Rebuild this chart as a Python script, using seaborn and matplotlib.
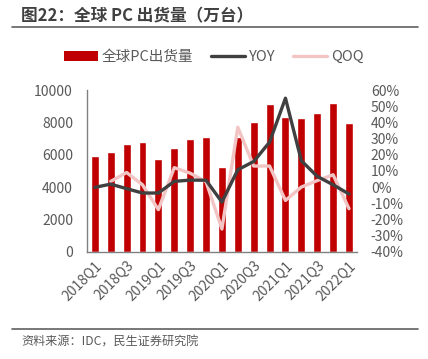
import numpy as np
import pandas as pd
import matplotlib
matplotlib.use("Agg")
import matplotlib.pyplot as plt
from matplotlib.patches import Patch
from matplotlib.lines import Line2D
import seaborn as sns

quarters = ["2018Q1", "2018Q2", "2018Q3", "2018Q4", "2019Q1", "2019Q2", "2019Q3", "2019Q4",
            "2020Q1", "2020Q2", "2020Q3", "2020Q4", "2021Q1", "2021Q2", "2021Q3", "2021Q4", "2022Q1"]
shipments = [5940, 6150, 6660, 6765, 5750, 6430, 6950, 7090,
             5230, 7110, 8040, 9115, 8350, 8290, 8580, 9215, 7960]
yoy = [-0.2, 1.8, -1.0, -3.7, -3.7, 3.5, 4.3, 4.2,
       -9.3, 10.7, 15.8, 27.8, 55.0, 16.3, 6.6, 1.4, -4.3]
qoq = [np.nan, 3.5, 9.0, 1.4, -14.0, 12.0, 8.6, 3.3,
       -26.0, 37.0, 13.0, 13.0, -8.3, 0.0, 4.0, 7.6, -13.4]
tick_labels = quarters[::2]

sns.set_theme(style="white")
plt.rcParams["font.family"] = ["Noto Sans CJK SC", "DejaVu Sans"]

RED = "#C00000"
DARK = "#404040"
PINK = "#F2C4C4"
GRAY = "#595959"

fig = plt.figure(figsize=(4.28, 3.59), dpi=100)
ax = fig.add_axes([0.203, 0.299, 0.631, 0.450])

df = pd.DataFrame({"q": quarters, "v": shipments})
sns.barplot(data=df, x="q", y="v", color=RED, saturation=1, width=0.5, ax=ax)
ax.set_ylim(0, 10000)
ax.set_yticks(np.arange(0, 10001, 2000))
ax.set_xlim(-0.5, len(quarters) - 0.5)
ax.set_xlabel("")
ax.set_ylabel("")
ax.set_xticks(np.arange(0, len(quarters), 2))
ax.set_xticklabels(tick_labels, rotation=45, ha="right", rotation_mode="anchor")
ax.tick_params(axis="y", length=0, labelsize=10, colors=GRAY, pad=10)
ax.tick_params(axis="x", length=0, labelsize=10, colors=GRAY, pad=5)
for s in ["top", "right"]:
    ax.spines[s].set_visible(False)
for s in ["left", "bottom"]:
    ax.spines[s].set_color("#808080")
    ax.spines[s].set_linewidth(1.0)

ax2 = ax.twinx()
idx = np.arange(len(quarters))
ldf = pd.DataFrame({"x": idx, "yoy": yoy, "qoq": qoq})
sns.lineplot(data=ldf, x="x", y="qoq", color=PINK, linewidth=2.4, ax=ax2)
sns.lineplot(data=ldf, x="x", y="yoy", color=DARK, linewidth=2.4, ax=ax2)
ax2.set_ylim(-40, 60)
ax2.set_yticks(np.arange(-40, 61, 10))
ax2.set_yticklabels([f"{v}%" for v in range(-40, 61, 10)])
ax2.set_xlabel("")
ax2.set_ylabel("")
ax2.tick_params(axis="y", length=0, labelsize=10, colors=GRAY, pad=10)
for s in ["top", "right", "left", "bottom"]:
    ax2.spines[s].set_visible(False)
ax2.set_xlim(-0.5, len(quarters) - 0.5)

handles = [Patch(facecolor=RED, edgecolor="none"),
           Line2D([], [], color=DARK, linewidth=2.4),
           Line2D([], [], color=PINK, linewidth=2.4)]
fig.legend(handles, ["全球PC出货量", "YOY", "QOQ"], loc="center", bbox_to_anchor=(0.5, 0.841),
           ncol=3, frameon=False, fontsize=10.5, labelcolor=GRAY, handlelength=2.3,
           handleheight=0.6, columnspacing=1.2, handletextpad=0.3)

fig.text(0.05, 0.955, "图22：全球 PC 出货量（万台）", fontsize=12, fontweight="bold",
         color="#404040", va="center", ha="left")
fig.add_artist(Line2D([0.028, 0.977], [0.925, 0.925], color="#606060", linewidth=1.2))
fig.add_artist(Line2D([0.028, 0.977], [0.084, 0.084], color="#606060", linewidth=1.2))
fig.text(0.05, 0.047, "资料来源：IDC，民生证券研究院", fontsize=8.7, color=GRAY, va="center", ha="left")

fig.savefig("out.png", dpi=100)
